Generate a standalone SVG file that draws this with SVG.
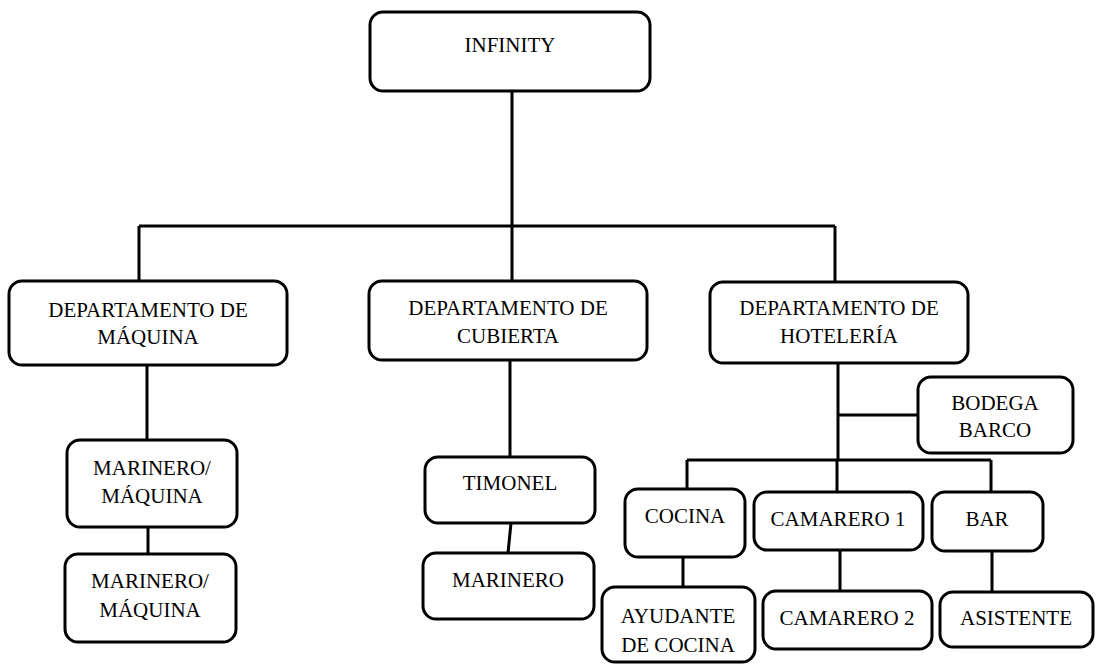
<svg xmlns="http://www.w3.org/2000/svg" width="1101" height="664" viewBox="0 0 1101 664">
<style>
.box{fill:#fff;stroke:#000;stroke-width:3}
.c{fill:none;stroke:#000;stroke-width:3}
</style>
<rect width="1101" height="664" fill="#fff"/>
<g id="connectors">
<path class="c" d="M512 91V226M139 226H835M139 226V281M512 226V281M835 226V282"/>
<path class="c" d="M147 365V440M148 527V554"/>
<path class="c" d="M510 360V457M511 523L508 553"/>
<path class="c" d="M838 363V460M838 415H918M687 460H991M687 460V489M837 460V492M991 460V492"/>
<path class="c" d="M683 557V587M840 550V591M992 551V592"/>
</g>
<g font-family="'Liberation Serif', serif" font-size="21" text-anchor="middle" fill="#000">
<g id="infinity"><rect class="box" x="370" y="12" width="280" height="79" rx="13"/><text x="510" y="52">INFINITY</text></g>
<g id="maquina"><rect class="box" x="9" y="281" width="278" height="84" rx="13"/><text x="148" y="317">DEPARTAMENTO DE</text><text x="148" y="344">MÁQUINA</text></g>
<g id="cubierta"><rect class="box" x="369" y="281" width="278" height="79" rx="13"/><text x="508" y="315">DEPARTAMENTO DE</text><text x="508" y="343">CUBIERTA</text></g>
<g id="hoteleria"><rect class="box" x="710" y="282" width="258" height="81" rx="13"/><text x="839" y="315">DEPARTAMENTO DE</text><text x="839" y="343">HOTELERÍA</text></g>
<g id="marinero-maquina-1"><rect class="box" x="67" y="440" width="170" height="87" rx="13"/><text x="152" y="475">MARINERO/</text><text x="152" y="503">MÁQUINA</text></g>
<g id="marinero-maquina-2"><rect class="box" x="65" y="554" width="171" height="88" rx="13"/><text x="150" y="588">MARINERO/</text><text x="150" y="617">MÁQUINA</text></g>
<g id="timonel"><rect class="box" x="425" y="457" width="170" height="66" rx="13"/><text x="510" y="490">TIMONEL</text></g>
<g id="marinero"><rect class="box" x="423" y="553" width="171" height="66" rx="13"/><text x="508" y="587">MARINERO</text></g>
<g id="bodega"><rect class="box" x="918" y="377" width="155" height="76" rx="13"/><text x="995" y="410">BODEGA</text><text x="995" y="437">BARCO</text></g>
<g id="cocina"><rect class="box" x="625" y="489" width="120" height="68" rx="13"/><text x="685" y="523">COCINA</text></g>
<g id="camarero1"><rect class="box" x="754" y="492" width="169" height="58" rx="13"/><text x="838" y="526">CAMARERO 1</text></g>
<g id="bar"><rect class="box" x="932" y="492" width="111" height="59" rx="13"/><text x="987" y="526">BAR</text></g>
<g id="ayudante"><rect class="box" x="602" y="587" width="153" height="75" rx="13"/><text x="678" y="623">AYUDANTE</text><text x="678" y="652">DE COCINA</text></g>
<g id="camarero2"><rect class="box" x="763" y="591" width="169" height="58" rx="13"/><text x="847" y="625">CAMARERO 2</text></g>
<g id="asistente"><rect class="box" x="940" y="592" width="153" height="55" rx="13"/><text x="1016" y="625">ASISTENTE</text></g>
</g>
</svg>
